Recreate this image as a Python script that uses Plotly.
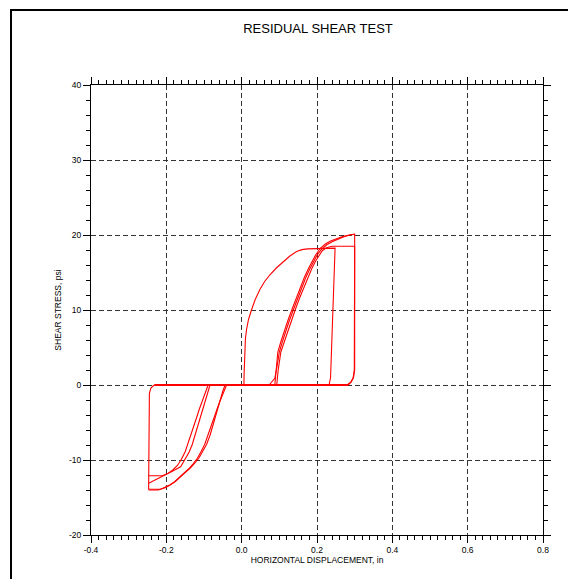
import plotly.graph_objects as go

# ---- data ----
# initial forward loading + unloading
f1_x = [0.000, 0.006, 0.0065, 0.007, 0.008, 0.010, 0.013, 0.018, 0.026, 0.036, 0.048, 0.061, 0.075,
        0.092, 0.110, 0.128, 0.146, 0.160, 0.175, 0.200, 0.225, 0.248, 0.236, 0.232]
f1_y = [0, 0, 1.5, 3.0, 4.8, 6.2, 7.4, 8.7, 10.0, 11.4, 12.7, 13.8, 14.7,
        15.6, 16.4, 17.2, 17.8, 18.05, 18.15, 18.15, 18.2, 18.25, 1.0, 0]

# later forward loadings
f2_x = [0.073, 0.088, 0.094, 0.100, 0.107, 0.115, 0.126, 0.137, 0.148, 0.159, 0.170, 0.181, 0.191,
        0.200, 0.212, 0.226, 0.240, 0.253, 0.270, 0.287, 0.300, 0.300, 0.297, 0.291, 0.283]
f2_y = [0, 0.9, 2.5, 4.4, 5.6, 6.9, 8.5, 10.0, 11.5, 12.9, 14.3, 15.5, 16.5,
        17.3, 18.1, 18.7, 19.1, 19.4, 19.75, 20.0, 20.1, 2.0, 1.0, 0.4, 0]
f3_x = [0.093, 0.097, 0.104, 0.112, 0.120, 0.131, 0.142, 0.153, 0.164, 0.175, 0.186, 0.196,
        0.205, 0.214, 0.225, 0.240, 0.260, 0.300, 0.299, 0.296, 0.290, 0.280]
f3_y = [0, 2.0, 4.4, 5.6, 6.9, 8.5, 10.0, 11.5, 12.9, 14.3, 15.5, 16.5,
        17.3, 17.9, 18.3, 18.5, 18.5, 18.5, 2.0, 1.0, 0.4, 0]
f4_x = [0.088, 0.091, 0.096, 0.103, 0.111, 0.122, 0.133, 0.144, 0.155, 0.166, 0.177, 0.187,
        0.196, 0.208, 0.222, 0.236, 0.250, 0.268, 0.286, 0.300]
f4_y = [0, 1.5, 4.4, 5.6, 6.9, 8.5, 10.0, 11.5, 12.9, 14.3, 15.5, 16.5,
        17.3, 18.2, 18.8, 19.2, 19.5, 19.8, 20.0, 20.1]

# reverse loadings
r1_x = [-0.044, -0.050, -0.058, -0.064, -0.071, -0.077, -0.084, -0.093, -0.103, -0.113, -0.124,
        -0.137, -0.151, -0.164, -0.177, -0.190, -0.204, -0.215, -0.247, -0.247, -0.245, -0.241, -0.232]
r1_y = [0, -0.8, -2.2, -3.3, -4.4, -5.5, -6.7, -7.9, -8.9, -9.7, -10.4,
        -11.1, -11.7, -12.3, -12.9, -13.3, -13.6, -13.9, -13.9, -2.5, -1.1, -0.4, 0]
r2_x = [-0.040, -0.049, -0.058, -0.066, -0.074, -0.081, -0.089, -0.098, -0.108, -0.118, -0.129,
        -0.141, -0.154, -0.166, -0.178, -0.190, -0.203, -0.222, -0.247]
r2_y = [0, -1.0, -2.2, -3.3, -4.4, -5.5, -6.7, -7.9, -8.9, -9.8, -10.5,
        -11.2, -11.8, -12.4, -12.9, -13.35, -13.7, -14.0, -14.0]
r3_x = [-0.089, -0.096, -0.105, -0.113, -0.120, -0.127, -0.134, -0.142, -0.150, -0.160,
        -0.170, -0.182, -0.195, -0.210, -0.247]
r3_y = [0, -0.9, -2.2, -3.3, -4.4, -5.5, -6.7, -7.9, -8.9, -9.9,
        -10.7, -11.3, -11.75, -12.1, -12.1]
r4_x = [-0.084, -0.090, -0.098, -0.104, -0.110, -0.116, -0.123, -0.131, -0.139, -0.150,
        -0.162, -0.184, -0.204, -0.225, -0.247]
r4_y = [0, -1.0, -2.2, -3.3, -4.4, -5.5, -6.7, -7.9, -8.9, -9.9,
        -10.9, -11.5, -12.0, -12.5, -13.1]

# zero-stress travel
z_x = [-0.232, 0.283]
z_y = [0, 0]

x_tickvals = [-0.4, -0.2, 0.0, 0.2, 0.4, 0.6, 0.8]
x_ticktext = ["-0.4", "-0.2", "0.0", "0.2", "0.4", "0.6", "0.8"]
y_tickvals = [-20, -10, 0, 10, 20, 30, 40]
y_ticktext = ["-20", "-10", "0", "10", "20", "30", "40"]

RED = "#ff0000"
FONT = "Liberation Sans"

fig = go.Figure()
for xs, ys in [(z_x, z_y), (f1_x, f1_y), (f2_x, f2_y), (f3_x, f3_y), (f4_x, f4_y),
               (r1_x, r1_y), (r2_x, r2_y), (r3_x, r3_y), (r4_x, r4_y)]:
    fig.add_trace(go.Scatter(x=xs, y=ys, mode="lines",
                             line=dict(color=RED, width=1.1),
                             hoverinfo="skip", showlegend=False))
fig.data[0].line.width = 2

axis_common = dict(
    showline=True, linecolor="black", linewidth=1, mirror="ticks",
    ticks="outside", ticklen=7, tickwidth=1, tickcolor="black",
    showgrid=True, gridcolor="#333333", gridwidth=1, griddash="5px,3px",
    zeroline=False,
    tickfont=dict(family=FONT, size=8.5, color="black"),
)

fig.update_xaxes(
    range=[-0.4, 0.8], tickvals=x_tickvals, ticktext=x_ticktext,
    minor=dict(dtick=0.02, tick0=0, ticks="outside", ticklen=4, tickcolor="black", showgrid=False),
    title=dict(text="HORIZONTAL DISPLACEMENT, in", font=dict(family=FONT, size=8.5, color="black"), standoff=2),
    **axis_common,
)
fig.update_yaxes(
    range=[-20, 40], tickvals=y_tickvals, ticktext=y_ticktext,
    minor=dict(dtick=2, tick0=0, ticks="outside", ticklen=4, tickcolor="black", showgrid=False),
    title=dict(text="SHEAR STRESS, psi", font=dict(family=FONT, size=8.5, color="black"), standoff=6),
    **axis_common,
)

# page frame (left and top rules)
px_l, px_r, py_t, py_b = 91, 543, 85, 535
def xp(px):
    return (px - px_l) / (px_r - px_l)
def yp(py):
    return (py_b - py) / (py_b - py_t)

fig.add_shape(type="line", xref="paper", yref="paper",
              x0=xp(11), x1=xp(11), y0=yp(9), y1=yp(585),
              line=dict(color="black", width=2))
fig.add_shape(type="line", xref="paper", yref="paper",
              x0=xp(10), x1=xp(575), y0=yp(10), y1=yp(10),
              line=dict(color="black", width=2))

fig.update_layout(
    width=568, height=579,
    margin=dict(l=91, r=25, t=85, b=44),
    paper_bgcolor="white", plot_bgcolor="white",
    title=dict(text="RESIDUAL SHEAR TEST", x=0.5599, xanchor="center", y=1 - 28 / 579, yanchor="middle",
               font=dict(family=FONT, size=13, color="black")),
    font=dict(family=FONT, color="black"),
)

fig.write_html("out.html")
